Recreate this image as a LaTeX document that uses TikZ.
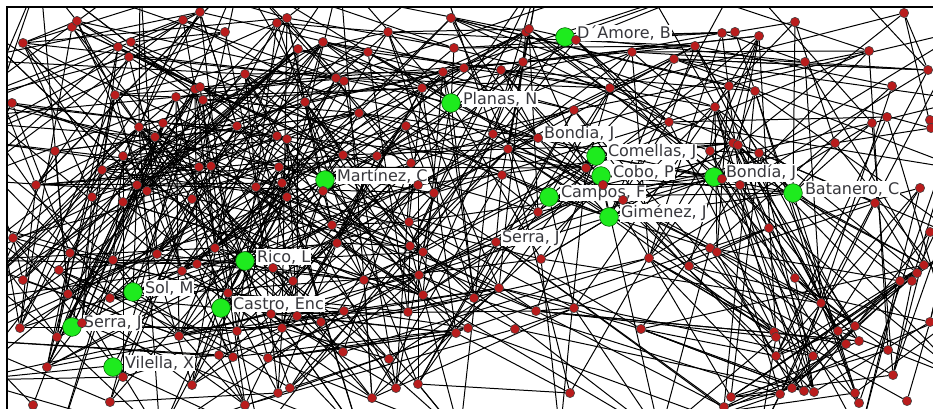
\documentclass[tikz,border=0pt]{standalone}
\usepackage{fontspec}
\newfontfamily\labelfont{DejaVu Sans}
\usetikzlibrary{positioning,backgrounds}

\definecolor{nodered}{RGB}{185,28,28}
\definecolor{nodegreen}{RGB}{30,235,30}
\definecolor{labelgray}{RGB}{55,55,60}

\begin{document}
\begin{tikzpicture}[
  x=0.75pt, y=-0.75pt,
  author/.style={circle, draw=black!75, line width=0.4pt, fill=nodered, inner sep=0pt, minimum size=7pt},
  keyauthor/.style={circle, draw=green!35!black, line width=0.4pt, fill=nodegreen, inner sep=0pt, minimum size=14pt},
  namelabel/.style={fill=white, inner sep=0.6pt, font=\labelfont\fontsize{12}{13}\selectfont, text=labelgray, yshift=3pt},
  link/.style={draw=black, line width=0.75pt},
]
\pgfmathsetseed{2718}
\useasboundingbox (0,0) rectangle (933,409);

\begin{scope}
\clip (7.5,7.5) rectangle (933,409);

% Key authors (green)
\node[keyauthor] (damore)   at (565,37)  {};
\node[keyauthor] (planas)   at (451,103) {};
\node[keyauthor] (comellas) at (596,156) {};
\node[keyauthor] (cobo)     at (601,176) {};
\node[keyauthor] (campos)   at (549,197) {};
\node[keyauthor] (gimenez)  at (609,217) {};
\node[keyauthor] (bondiaJ)  at (714,177) {};
\node[keyauthor] (batanero) at (793,193) {};
\node[keyauthor] (martinez) at (325,180) {};
\node[keyauthor] (rico)     at (245,261) {};
\node[keyauthor] (sol)      at (133,292) {};
\node[keyauthor] (castro)   at (221,308) {};
\node[keyauthor] (serraA)   at (72,327)  {};
\node[keyauthor] (vilella)  at (113,367) {};

% Labels
\node[namelabel, right=1pt of damore]   (damore-l)   {D´Amore, B};
\node[namelabel, right=1pt of planas]   (planas-l)   {Planas, N};
\node[namelabel, right=1pt of comellas] (comellas-l) {Comellas, J};
\node[namelabel, right=1pt of cobo]     (cobo-l)     {Cobo, P};
\node[namelabel, right=1pt of campos]   (campos-l)   {Campos, F};
\node[namelabel, right=1pt of gimenez]  (gimenez-l)  {Giménez, J};
\node[namelabel, right=1pt of bondiaJ]  (bondiaJ-l)  {Bondía, J};
\node[namelabel, right=1pt of batanero] (batanero-l) {Batanero, C};
\node[namelabel, right=1pt of martinez] (martinez-l) {Martínez, C};
\node[namelabel, right=1pt of rico]     (rico-l)     {Rico, L};
\node[namelabel, right=1pt of sol]      (sol-l)      {Sol, M};
\node[namelabel, right=1pt of castro]   (castro-l)   {Castro, Enc};
\node[namelabel, right=1pt of serraA]   (serraA-l)   {Serra, J};
\node[namelabel, right=1pt of vilella]  (vilella-l)  {Vilella, X};
\node[namelabel, anchor=west] (bondia-l) at (543,138) {Bondia, J};
\node[namelabel, anchor=west] (serraB-l) at (501,242) {Serra, J};

% Other authors (red); the last ones lie outside the frame
\foreach [count=\i] \x/\y in {
  72/27, 77/21, 23/43, 118/47, 131/42, 129/57, 183/20, 200/12, 225/32, 277/23,
  287/18, 298/49, 245/74, 115/95, 176/97, 195/89, 200/87, 203/100, 12/103, 305/102,
  139/127, 163/123, 155/137, 237/126, 277/136, 287/139, 55/151, 123/156, 102/170, 199/167,
  211/166, 279/167, 36/185, 137/185, 147/191, 256/187, 282/183, 287/197, 92/197, 123/202,
  192/199, 451/18, 388/32, 323/42, 368/52, 454/48, 526/32, 529/29, 523/62, 501/70,
  464/68, 443/72, 336/78, 344/81, 422/88, 576/40, 610/88, 574/110, 359/113, 406/126,
  493/134, 538/138, 508/149, 343/155, 377/156, 411/163, 586/168, 603/185, 502/175, 418/185,
  434/193, 323/191, 623/200, 632/52, 674/59, 695/46, 722/33, 735/32, 759/36, 795/22,
  904/13, 869/51, 805/62, 928/70, 729/86, 755/91, 892/86, 715/107, 669/122, 872/123,
  887/117, 930/120, 931/128, 835/143, 733/143, 738/145, 759/153, 710/151, 722/179, 740/185,
  920/188, 875/203, 13/238, 70/253, 113/260, 157/254, 215/248, 59/270, 182/271, 197/264,
  23/280, 273/268, 293/281, 68/294, 110/298, 228/293, 20/328, 82/323, 57/337, 179/336,
  237/331, 271/314, 297/316, 282/328, 219/355, 233/357, 268/358, 123/377, 47/367, 192/385,
  290/388, 278/393, 33/405, 110/402, 245/405, 332/225, 337/243, 409/222, 410/246, 423/252,
  496/242, 538/212, 541/259, 364/280, 419/275, 423/295, 474/298, 499/288, 344/311, 408/312,
  321/322, 536/311, 574/308, 456/333, 468/328, 515/329, 343/352, 389/359, 396/388, 418/384,
  372/398, 570/393, 769/228, 710/248, 717/252, 649/258, 689/266, 930/232, 924/265, 917/273,
  912/281, 900/281, 795/278, 821/303, 641/329, 774/332, 776/337, 838/331, 855/326, 846/344,
  859/341, 776/356, 813/356, 888/350, 930/322, 893/375, 731/397, 780/394, 792/388, 804/391,
  814/392, 855/393, 859/403, 907/401, 724/407,
  -30/20, -30/60, -30/100, -30/140, -30/180, -30/220, -30/260, -30/300, -30/340, -30/380,
  -60/120, -60/240, -60/330, 40/-25, 140/-25, 240/-25, 340/-25, 440/-25, 540/-25, 640/-25,
  740/-25, 840/-25, 940/-25, 60/435, 160/435, 260/435, 360/435, 460/435, 560/435, 660/435,
  760/435, 860/435, 965/30, 965/100, 965/170, 965/240, 965/310, 965/380} {
  \node[author] (r\i) at (\x,\y) {};
  \expandafter\xdef\csname rx\i\endcsname{\x}
  \expandafter\xdef\csname ry\i\endcsname{\y}
  \xdef\nred{\i}
}
\end{scope}

% Frame
\draw[line width=1pt] (7,409) -- (7,7) -- (933,7);

\begin{pgfonlayer}{background}
\clip (7.5,7.5) rectangle (933,409);

% Links between authors
\foreach \i in {1,...,\nred} {
  \foreach \k in {1,...,8} {
    \pgfmathtruncatemacro\j{random(1,\nred)}
    \edef\xa{\csname rx\i\endcsname}\edef\ya{\csname ry\i\endcsname}
    \edef\xb{\csname rx\j\endcsname}\edef\yb{\csname ry\j\endcsname}
    \pgfmathsetmacro\d{veclen((\xa)-(\xb),(\ya)-(\yb))}
    \ifdim\d pt<330pt \ifdim\d pt>5pt \draw[link] (r\i) -- (r\j); \fi\fi
  }
}

% Links of key authors
\foreach \g/\gx/\gy in {damore/565/37, planas/451/103, comellas/596/156, cobo/601/176,
  campos/549/197, gimenez/609/217, bondiaJ/714/177, batanero/793/193, martinez/325/180,
  rico/245/261, sol/133/292, castro/221/308, serraA/72/327, vilella/113/367} {
  \foreach \k in {1,...,18} {
    \pgfmathtruncatemacro\j{random(1,\nred)}
    \edef\xb{\csname rx\j\endcsname}\edef\yb{\csname ry\j\endcsname}
    \pgfmathsetmacro\d{veclen(\gx-(\xb),\gy-(\yb))}
    \ifdim\d pt<280pt \draw[link] (\g) -- (r\j); \fi
  }
}

% Bundles around Bondia
\foreach \a in {comellas, cobo, campos, gimenez} {
  \draw[link] (\a) -- (bondiaJ);
  \draw[link] (\a) -- (batanero);
}
\draw[link] (campos) -- (comellas);
\draw[link] (campos) -- (gimenez);
\draw[link] (cobo) -- (gimenez);
\end{pgfonlayer}

\end{tikzpicture}
\end{document}
